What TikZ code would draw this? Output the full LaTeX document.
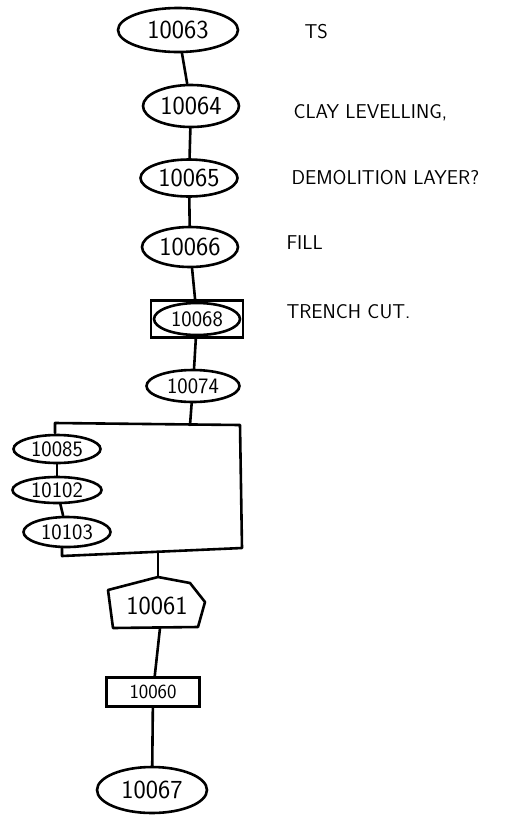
\documentclass[tikz,border=0pt]{standalone}
\usetikzlibrary{shapes.geometric}
\begin{document}
\begin{tikzpicture}[
	x=1pt, y=-1pt,
	link/.style={line width=2.6pt, line cap=round,
		line join=round, black},
	unit/.style={ellipse, draw=black, line width=2.6pt,
		inner sep=0pt, font=\sffamily\fontsize{26}{28}\selectfont},
	subunit/.style={unit, font=\sffamily\fontsize{22}{24}\selectfont},
	cutbox/.style={rectangle, draw=black, line width=2.6pt,
		inner sep=0pt},
	note/.style={anchor=west, font=\sffamily\fontsize{20}{22}\selectfont},
	]
	\useasboundingbox (0,0) rectangle (509,823);
	
	% upper sequence
	\node[unit, minimum width=120, minimum height=44] (u10063) at (178,30) {10063};
	\node[unit, minimum width=96, minimum height=42] (u10064) at (191,106) {10064};
	\node[unit, minimum width=97, minimum height=37] (u10065) at (189,178) {10065};
	\node[unit, minimum width=96, minimum height=40] (u10066) at (190,247) {10066};
	\node[unit, minimum width=86, minimum height=32, font=\sffamily\fontsize{22}{24}\selectfont]
	(u10068) at (197,319) {10068};
	\node[cutbox, minimum width=92, minimum height=37] (c10068) at (u10068) {};
	\node[unit, minimum width=93, minimum height=32, font=\sffamily\fontsize{22}{24}\selectfont]
	(u10074) at (193,386) {10074};
	\draw[link](u10063)--(u10064);
	\draw[link](u10064)--(u10065);
	\draw[link](u10065)--(u10066);
	\draw[link](u10066)--(c10068);
	\draw[link](c10068)--(u10074);
	
	\node[note] (n10063) at (301,32) {TS};
	\node[note] (n10064) at (290,113) {CLAY LEVELLING,};
	\node[note] (n10065) at (288,178) {DEMOLITION LAYER?};
	\node[note] (n10066) at (283,243) {FILL};
	\node[note] (n10068) at (283,312) {TRENCH CUT.};
	
	% group
	\coordinate (gtl) at (55,433);
	\coordinate (gtop) at (55,423);
	\coordinate (gtr) at (240,425);
	\coordinate (gbr) at (242,548);
	\coordinate (gbl) at (62,556);
	\coordinate (gbot) at (62,547);
	\coordinate (gin) at (190,425);
	\coordinate (gout) at (158,552);
	\draw[link](gtl)--(gtop)--(gtr)--(gbr)--(gbl)--(gbot);
	\draw[link](u10074)--(gin);
	
	\node[subunit, minimum width=87, minimum height=28] (u10085) at (57,449) {10085};
	\node[subunit, minimum width=89, minimum height=26] (u10102) at (57,490) {10102};
	\node[subunit, minimum width=87, minimum height=30] (u10103) at (67,532) {10103};
	\draw[link](u10085)--(u10102);
	\draw[link](u10102)--(u10103);
	
	% lower sequence
	\coordinate (P1) at (108,590);
	\coordinate (P2) at (158,577);
	\coordinate (P3) at (190,583);
	\coordinate (P4) at (205,602);
	\coordinate (P5) at (198,627);
	\coordinate (P6) at (113,628);
	\coordinate (P7) at (160,628);
	\draw[link](P1)--(P2)--(P3)--(P4)--(P5)--(P6)--cycle;
	\node[font=\sffamily\fontsize{26}{28}\selectfont] (u10061) at (157,606) {10061};
	\node[cutbox, minimum width=93, minimum height=29,
	font=\sffamily\fontsize{20}{22}\selectfont] (u10060) at (153,692) {10060};
	\node[unit, minimum width=110, minimum height=46] (u10067) at (152,790) {10067};
	\draw[link](gout)--(P2);
	\draw[link](P7)--(u10060);
	\draw[link](u10060)--(u10067);
\end{tikzpicture}
\end{document}
